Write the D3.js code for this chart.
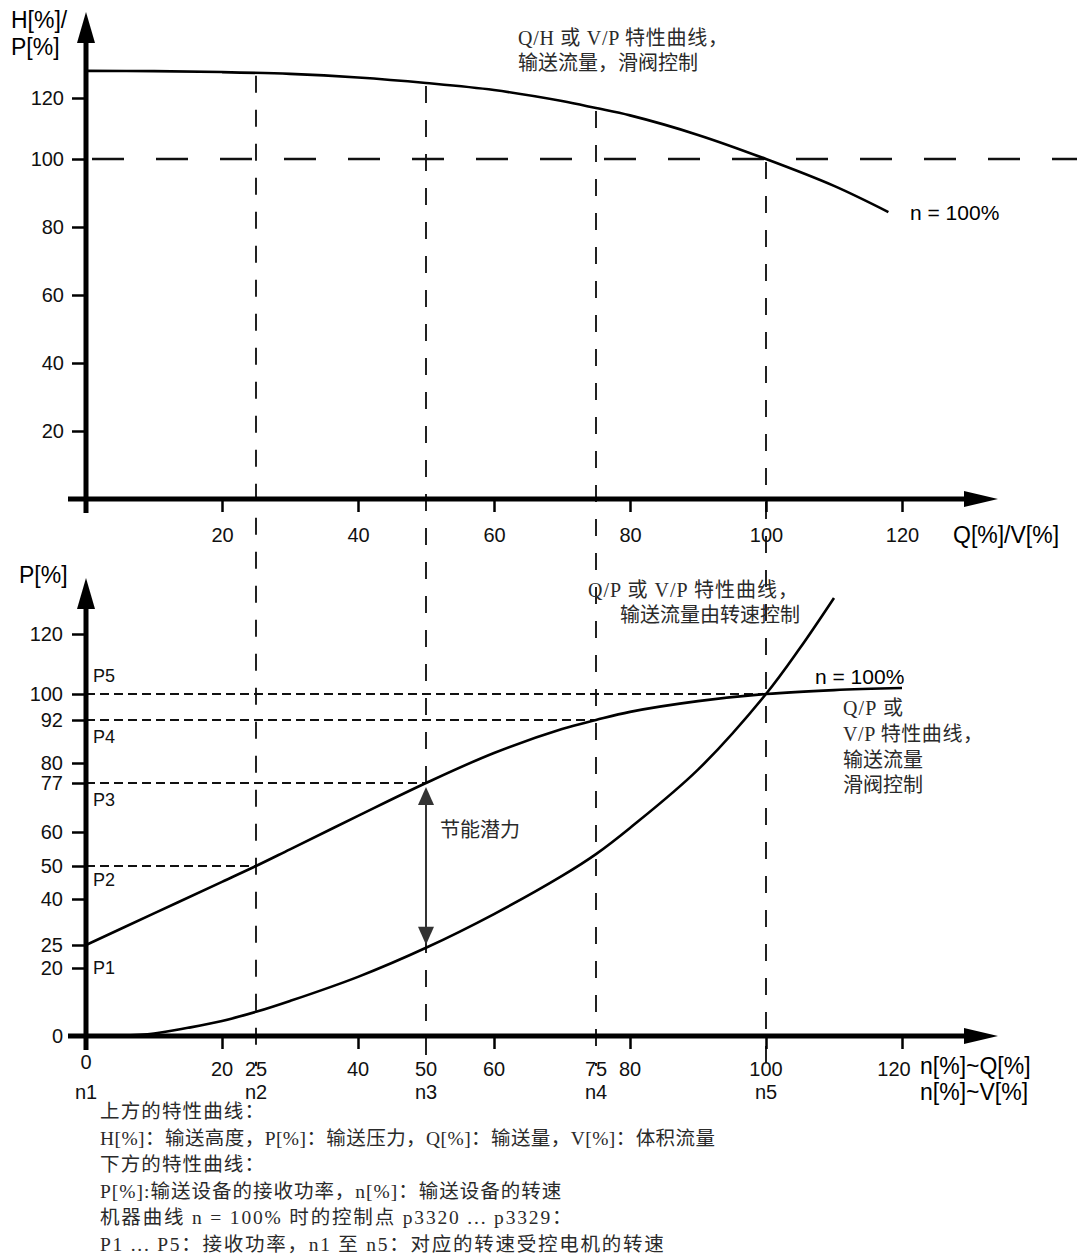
<!DOCTYPE html>
<html><head><meta charset="utf-8">
<script src="https://cdn.jsdelivr.net/npm/d3@7"></script>
<style>
body{margin:0;background:#fff;}
svg{display:block;}
</style></head><body>
<svg id="c" width="1077" height="1260"></svg>
<script>
// ---------- data ----------
const qTicks = [20, 40, 60, 80, 100, 120];
const hTicks = [20, 40, 60, 80, 100, 120];
const pTicks = [0, 20, 25, 40, 50, 60, 77, 80, 92, 100, 120];
const nLabelValues = [0, 20, 25, 40, 50, 60, 75, 80, 100, 120];
const controlNames = ["n1", "n2", "n3", "n4", "n5"];
const controlSpeeds = [0, 25, 50, 75, 100];
const powerNames = ["P1", "P2", "P3", "P4", "P5"];
const powerValues = [25, 50, 77, 92, 100];
const ratedLevel = 100;

// upper: Q/H curve, valve control (n = 100%)
const topQ = [0, 10, 20, 30, 40, 50, 60, 70, 75, 80, 90, 100, 110, 118];
const topH = [128.9, 128.8, 128.5, 127.9, 126.7, 124.9, 122.6, 119, 116.7, 114.3, 107.9, 100, 92.1, 84.4];
// lower: Q/P valve control (n = 100%)
const valveQ = [0, 10, 20, 25, 30, 40, 50, 60, 70, 75, 80, 90, 100, 110, 120];
const valveP = [25, 35.3, 45.2, 50, 54.9, 65.6, 77, 82.8, 89.5, 92, 94.5, 97.8, 100, 101.3, 102];
// lower: Q/P speed control
const speedQ = [5, 10, 15, 20, 25, 30, 40, 50, 60, 70, 75, 80, 90, 100, 105, 110];
const speedP = [0, 0.7, 2.4, 4.4, 7.1, 10.3, 17.4, 24.4, 35.1, 47, 53.5, 61.4, 79, 100, 115.3, 132];

const footLines = [
  "上方的特性曲线：",
  "H[%]：输送高度，P[%]：输送压力，Q[%]：输送量，V[%]：体积流量",
  "下方的特性曲线：",
  "P[%]:输送设备的接收功率，n[%]：输送设备的转速",
  "机器曲线 n = 100% 时的控制点 p3320 ... p3329：",
  "P1 ... P5：接收功率，n1 至 n5：对应的转速受控电机的转速"
];

// ---------- layout ----------
const SANS = '"Liberation Sans", Arial, sans-serif';
const CJK = '"Liberation Serif", "Noto Sans CJK SC", serif';
const svg = d3.select("#c");
const x = d3.scaleLinear().domain([0, 120]).range([86, 902]);
// the original drawing's value axes are not evenly spaced; piecewise-linear scales follow them
const yTop = d3.scaleLinear().domain([0, 100, 120]).range([499, 159, 98]);
const yBot = d3.scaleLinear().domain(pTicks).range([1036, 968, 945, 899, 866, 832, 783, 763, 720, 694, 634]);
const axisLeftX = x(0);
const xAxisStart = 68, xAxisTip = 998;

function arrowAxisH(y) {
  const g = svg.append("g");
  g.append("line").attr("x1", xAxisStart).attr("x2", xAxisTip - 30).attr("y1", y).attr("y2", y)
    .attr("stroke", "#000").attr("stroke-width", 5);
  g.append("path").attr("d", `M${xAxisTip},${y}L${xAxisTip - 34},${y - 8}L${xAxisTip - 34},${y + 8}Z`).attr("fill", "#000");
}
function arrowAxisV(yTip, yEnd) {
  const g = svg.append("g");
  g.append("line").attr("x1", axisLeftX).attr("x2", axisLeftX).attr("y1", yEnd).attr("y2", yTip + 28)
    .attr("stroke", "#000").attr("stroke-width", 5);
  g.append("path").attr("d", `M${axisLeftX},${yTip}L${axisLeftX - 9},${yTip + 31}L${axisLeftX + 9},${yTip + 31}Z`).attr("fill", "#000");
}
function styleAxis(g) {
  g.select(".domain").remove();
  g.selectAll(".tick line").attr("stroke", "#000").attr("stroke-width", 2.5);
  g.selectAll(".tick text").attr("font-family", SANS).attr("font-size", 20).attr("fill", "#111");
}
const line = (xs, ys, ysc) => d3.line().curve(d3.curveCatmullRom.alpha(0.5))(xs.map((q, i) => [x(q), ysc(ys[i])]));

// SimSun-like advance: ASCII half width, others full width
const emWidth = s => Array.from(s).reduce((a, c) => a + (c.charCodeAt(0) < 128 ? 0.5 : 1), 0);
function cjkText(tx, ty, s, fs, em) {
  fs = fs || 20;
  return svg.append("text").attr("x", tx).attr("y", ty).attr("font-family", CJK)
    .attr("font-size", fs).attr("fill", "#2a2a2a")
    .attr("textLength", emWidth(s) * (em || fs)).attr("lengthAdjust", "spacing").text(s);
}

// ---------- vertical control-point dashed lines (span both charts) ----------
const topPath = svg.append("path").attr("d", line(topQ, topH, yTop)).attr("fill", "none").attr("stroke", "none");
function yOnPath(path, px) {
  const node = path.node(), L = node.getTotalLength();
  let lo = 0, hi = L;
  for (let i = 0; i < 40; i++) { const m = (lo + hi) / 2; if (node.getPointAtLength(m).x < px) lo = m; else hi = m; }
  return node.getPointAtLength(lo).y;
}
svg.append("g").selectAll("line").data(controlSpeeds.filter(d => d > 0)).join("line")
  .attr("x1", d => x(d)).attr("x2", d => x(d))
  .attr("y1", d => yOnPath(topPath, x(d)) + 3).attr("y2", 1066)
  .attr("stroke", "#222").attr("stroke-width", 2).attr("stroke-dasharray", "17 17");

// ---------- TOP CHART ----------
svg.append("line").attr("x1", x(0)).attr("x2", 1077).attr("y1", yTop(ratedLevel)).attr("y2", yTop(ratedLevel))
  .attr("stroke", "#111").attr("stroke-width", 2.5).attr("stroke-dasharray", "32 32").attr("stroke-dashoffset", -6);

const gTopY = svg.append("g").attr("transform", `translate(${axisLeftX},0)`)
  .call(d3.axisLeft(yTop).tickValues(hTicks).tickSize(14).tickPadding(8));
styleAxis(gTopY);
gTopY.selectAll(".tick text").attr("x", -22);
const gTopX = svg.append("g").attr("transform", `translate(0,${yTop(0)})`)
  .call(d3.axisBottom(x).tickValues(qTicks).tickSize(13).tickPadding(16));
styleAxis(gTopX);

arrowAxisV(12, 513);
arrowAxisH(yTop(0));

svg.append("path").attr("d", line(topQ, topH, yTop)).attr("fill", "none").attr("stroke", "#000").attr("stroke-width", 2.6);

svg.append("text").attr("x", 11).attr("y", 28).attr("font-family", SANS).attr("font-size", 23).text("H[%]/");
svg.append("text").attr("x", 11).attr("y", 55).attr("font-family", SANS).attr("font-size", 23).text("P[%]");
svg.append("text").attr("x", 953).attr("y", 543).attr("font-family", SANS).attr("font-size", 23).text("Q[%]/V[%]");
svg.append("text").attr("x", 910).attr("y", 220).attr("font-family", SANS).attr("font-size", 21).text("n = 100%");
cjkText(518, 45, "Q/H 或 V/P 特性曲线，");
cjkText(518, 70, "输送流量，滑阀控制");

// ---------- BOTTOM CHART ----------
svg.append("g").selectAll("line").data(powerValues.map((p, i) => ({ p, n: controlSpeeds[i] })).filter(d => d.n > 0)).join("line")
  .attr("x1", x(0)).attr("x2", d => x(d.n)).attr("y1", d => yBot(d.p)).attr("y2", d => yBot(d.p))
  .attr("stroke", "#111").attr("stroke-width", 2).attr("stroke-dasharray", "9 5");

const gBotY = svg.append("g").attr("transform", `translate(${axisLeftX},0)`)
  .call(d3.axisLeft(yBot).tickValues(pTicks).tickSize(14).tickPadding(8));
styleAxis(gBotY);
gBotY.selectAll(".tick text").attr("x", -23);
const gBotX = svg.append("g").attr("transform", `translate(0,${yBot(0)})`)
  .call(d3.axisBottom(x).tickValues(qTicks).tickSize(13).tickFormat(""));
styleAxis(gBotX);

arrowAxisV(578, 1050);
arrowAxisH(yBot(0));

svg.append("path").attr("d", line(valveQ, valveP, yBot)).attr("fill", "none").attr("stroke", "#000").attr("stroke-width", 2.6);
svg.append("path").attr("d", line(speedQ, speedP, yBot)).attr("fill", "none").attr("stroke", "#000").attr("stroke-width", 2.6);

// bottom x labels
svg.append("g").selectAll("text").data(nLabelValues).join("text")
  .attr("x", d => x(d)).attr("dx", d => d === 120 ? -8 : 0)
  .attr("y", d => d === 0 ? 1069 : 1076).attr("text-anchor", "middle")
  .attr("font-family", SANS).attr("font-size", 20).attr("fill", "#111").text(d => d);
svg.append("g").selectAll("text").data(controlNames).join("text")
  .attr("x", (d, i) => x(controlSpeeds[i])).attr("y", 1099).attr("text-anchor", "middle")
  .attr("font-family", SANS).attr("font-size", 20).attr("fill", "#111").text(d => d);
svg.append("text").attr("x", 920).attr("y", 1074).attr("font-family", SANS).attr("font-size", 23).text("n[%]~Q[%]");
svg.append("text").attr("x", 920).attr("y", 1100).attr("font-family", SANS).attr("font-size", 23).text("n[%]~V[%]");

// P labels
svg.append("g").selectAll("text").data(powerNames).join("text")
  .attr("x", 93).attr("y", (d, i) => yBot(powerValues[i]) + [29, 20, 23, 23, -12][i])
  .attr("font-family", SANS).attr("font-size", 18).attr("fill", "#111").text(d => d);

svg.append("text").attr("x", 19).attr("y", 583).attr("font-family", SANS).attr("font-size", 23).text("P[%]");
svg.append("text").attr("x", 815).attr("y", 684).attr("font-family", SANS).attr("font-size", 21).text("n = 100%");

cjkText(588, 597, "Q/P 或 V/P 特性曲线，");
cjkText(620, 622, "输送流量由转速控制");
cjkText(843, 715, "Q/P 或");
cjkText(843, 741, "V/P 特性曲线，");
cjkText(843, 767, "输送流量");
cjkText(843, 792, "滑阀控制");

// energy-saving arrow at n3
const nA = controlSpeeds[2];
const aTop = yBot(powerValues[2]) + 4, aBot = yBot(speedP[speedQ.indexOf(nA)]) - 3;
svg.append("line").attr("x1", x(nA)).attr("x2", x(nA)).attr("y1", aTop + 10).attr("y2", aBot - 10)
  .attr("stroke", "#333").attr("stroke-width", 2);
svg.append("path").attr("d", `M${x(nA)},${aTop}l-8,18h16z`).attr("fill", "#333");
svg.append("path").attr("d", `M${x(nA)},${aBot}l-8,-18h16z`).attr("fill", "#333");
cjkText(440, 837, "节能潜力");

// footnote
footLines.forEach((s, i) => cjkText(100, 1118 + i * 26.6, s, 19.5, 20.5));
</script>
</body></html>
